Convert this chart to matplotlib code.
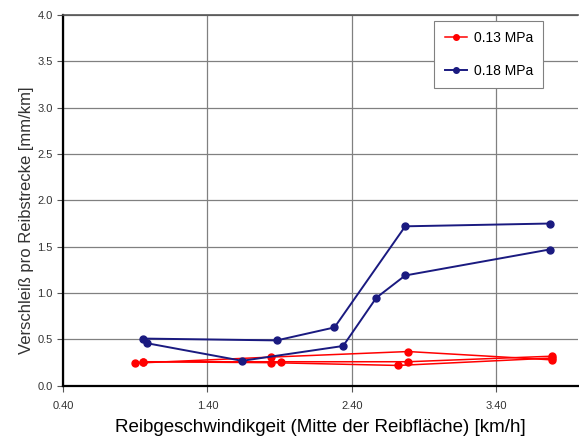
import matplotlib.pyplot as plt

plt.rcParams['font.family'] = ['Liberation Sans', 'DejaVu Sans']

# red series (0.13 MPa) - three runs
red_x = [
    [0.90, 1.84, 2.79, 3.79],
    [0.95, 1.84, 2.72, 3.79],
    [0.95, 1.91, 2.79, 3.79],
]
red_y = [
    [0.245, 0.31, 0.37, 0.28],
    [0.26, 0.25, 0.22, 0.30],
    [0.26, 0.26, 0.26, 0.32],
]

# blue series (0.18 MPa) - two runs
blue_x = [
    [0.95, 1.88, 2.28, 2.77, 3.77],
    [0.98, 1.64, 2.34, 2.57, 2.77, 3.77],
]
blue_y = [
    [0.51, 0.49, 0.63, 1.72, 1.75],
    [0.46, 0.27, 0.43, 0.95, 1.19, 1.47],
]

x_ticks = [0.40, 1.40, 2.40, 3.40]
y_ticks = [0.0, 0.5, 1.0, 1.5, 2.0, 2.5, 3.0, 3.5, 4.0]

fig = plt.figure(figsize=(5.79, 4.36), dpi=100)
ax = fig.add_axes([0.109, 0.115, 0.89, 0.851])

for i, (xs, ys) in enumerate(zip(red_x, red_y)):
    ax.plot(xs, ys, color='#ff0000', marker='o', markersize=5, linewidth=1.1,
            label='0.13 MPa' if i == 0 else None, zorder=3)
for i, (xs, ys) in enumerate(zip(blue_x, blue_y)):
    ax.plot(xs, ys, color='#1a1a80', marker='o', markersize=5, linewidth=1.4,
            label='0.18 MPa' if i == 0 else None, zorder=4)

ax.set_xlim(0.40, 3.97)
ax.set_ylim(0.0, 4.0)
ax.set_xticks(x_ticks)
ax.set_xticklabels([f'{v:.2f}' for v in x_ticks], fontsize=8, color='#333333')
ax.set_yticks(y_ticks)
ax.set_yticklabels([f'{v:.1f}' for v in y_ticks], fontsize=8, color='#333333')
ax.tick_params(direction='out', length=4, width=0.8, color='#555555')
ax.tick_params(axis='x', pad=7)

ax.grid(True, color='#808080', linewidth=0.9)
ax.set_axisbelow(True)
for s in ['left', 'bottom']:
    ax.spines[s].set_linewidth(1.6)
    ax.spines[s].set_color('black')
ax.spines['top'].set_color('#555555')
ax.spines['top'].set_linewidth(1.2)
ax.spines['right'].set_visible(False)

ax.set_xlabel('Reibgeschwindikgeit (Mitte der Reibfläche) [km/h]', fontsize=13.5, labelpad=6)
ax.set_ylabel('Verschleiß pro Reibstrecke [mm/km]', fontsize=12, color='#333333')
ax.yaxis.set_label_coords(-0.056, 0.445)

leg = ax.legend(loc='upper right', bbox_to_anchor=(0.932, 0.984), fontsize=10,
                fancybox=False, framealpha=1, edgecolor='#808080',
                markerscale=0.8, handlelength=1.6, handletextpad=0.5,
                borderpad=0.75, labelspacing=1.35, borderaxespad=0)
leg.get_frame().set_linewidth(0.8)

fig.savefig('out.png', dpi=100)
